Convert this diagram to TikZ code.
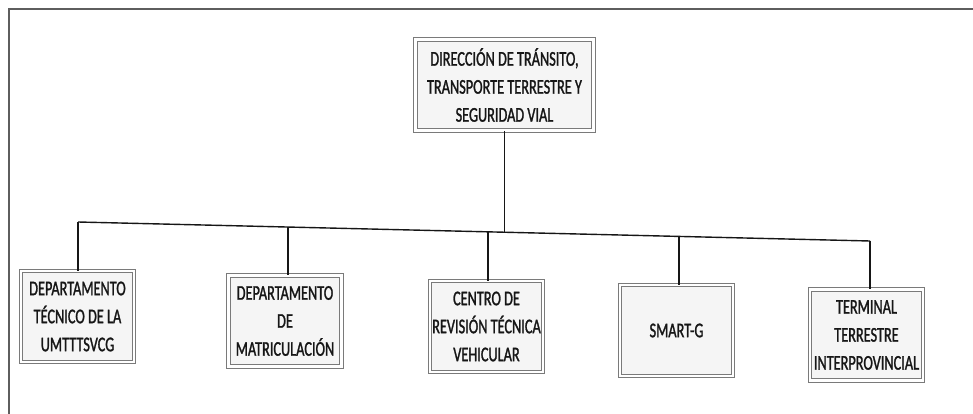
\documentclass[tikz,border=0pt]{standalone}
\usepackage{fontspec}
\setmainfont[FakeStretch=0.68,FakeBold=1.2]{Carlito}
\usepackage{tikz}
\definecolor{ink}{HTML}{161616}
\definecolor{frame}{HTML}{5E5E5E}
\definecolor{boxline}{HTML}{7A7A7A}
\definecolor{boxfill}{HTML}{F5F5F5}
\tikzset{
  unit/.style={draw=boxline, double=white, double distance=2.4pt, line width=1pt,
    fill=boxfill, text=ink, align=center, inner sep=2pt,
    font=\fontsize{21}{28}\selectfont},
  headbox/.style={unit, minimum width=178pt, minimum height=91pt},
  deptbox/.style={unit, minimum width=113pt, minimum height=91pt},
  link/.style={draw=ink, line width=1.4pt},
  border/.style={draw=frame, line width=1.5pt},
}
\begin{document}
\begin{tikzpicture}[x=1pt,y=-1pt]
\useasboundingbox (0,0) rectangle (973,414);
\draw[border] (973,9) -- (9,9) -- (9,414);
% direccion
\node[headbox] (dir) at (504.5,85) {DIRECCIÓN DE TRÁNSITO,\\TRANSPORTE TERRESTRE Y\\SEGURIDAD VIAL};
% departamentos
\node[deptbox] (dtec) at (77.5,316.5) {DEPARTAMENTO\\TÉCNICO DE LA\\UMTTTSVCG};
\node[deptbox] (dmat) at (285,321) {DEPARTAMENTO\\DE\\MATRICULACIÓN};
\node[deptbox] (crtv) at (486.5,326.5) {CENTRO DE\\REVISIÓN TÉCNICA\\VEHICULAR};
\node[deptbox] (smart) at (676.5,330.5) {SMART-G};
\node[deptbox] (term) at (866.5,335) {TERMINAL\\TERRESTRE\\INTERPROVINCIAL};
% barra
\coordinate (b1) at (78,222);
\coordinate (b2) at (288,227);
\coordinate (b3) at (488,232);
\coordinate (b4) at (679,236.4);
\coordinate (b5) at (870,241);
\coordinate (bd) at (504.5,232.4);
\draw[link] (b1) -- (b5);
\draw[link] (dir) -- (dir |- bd);
\foreach \b/\n in {b1/dtec, b2/dmat, b3/crtv, b4/smart, b5/term}
  \draw[link] (\b) -- (\b |- \n.north);
\end{tikzpicture}
\end{document}
